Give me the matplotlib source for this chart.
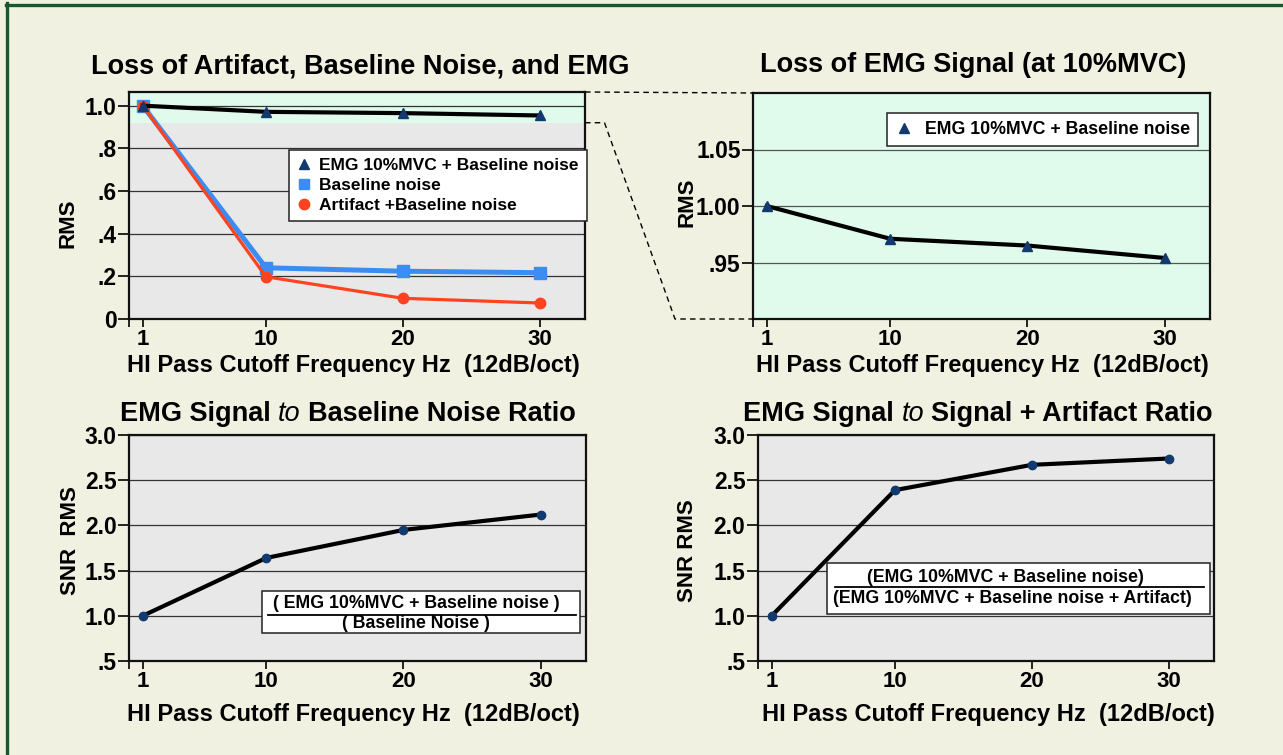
import matplotlib
matplotlib.use("Agg")
import matplotlib.pyplot as plt
from matplotlib.lines import Line2D
from matplotlib.patches import Rectangle

plt.rcParams["font.family"] = ["Liberation Sans", "DejaVu Sans"]
plt.rcParams["font.weight"] = "bold"

# ------------------------------------------------------------------
# data
# ------------------------------------------------------------------
freq = [1, 10, 20, 30]
freq_ticks = [0, 1, 10, 20, 30]
freq_labels = ["", "1", "10", "20", "30"]

rms_emg = [1.000, 0.971, 0.965, 0.954]
rms_baseline = [1.000, 0.240, 0.224, 0.217]
rms_artifact = [1.000, 0.198, 0.097, 0.075]
snr_baseline = [1.00, 1.64, 1.95, 2.12]
snr_artifact = [1.00, 2.39, 2.67, 2.74]

zoom_lo = 0.92  # lower edge of the zoomed band in the first panel

rms_ticks = [0, 0.2, 0.4, 0.6, 0.8, 1.0]
rms_ticklabels = ["0", ".2", ".4", ".6", ".8", "1.0"]
zoom_ticks = [0.95, 1.00, 1.05]
zoom_ticklabels = [".95", "1.00", "1.05"]
snr_ticks = [0.5, 1.0, 1.5, 2.0, 2.5, 3.0]
snr_ticklabels = [".5", "1.0", "1.5", "2.0", "2.5", "3.0"]

lbl_emg = "EMG 10%MVC + Baseline noise"
lbl_base = "Baseline noise"
lbl_art = "Artifact +Baseline noise"
xlabel = "HI Pass Cutoff Frequency Hz  (12dB/oct)"

BG = "#F1F1E1"
GREEN = "#E0FBEC"
GRAY = "#E8E8E8"
BORDER = "#17592F"
NAVY = "#123A6E"
BLUE = "#3B8DF2"
RED = "#FF4320"

W, H = 1283, 755
fig = plt.figure(figsize=(W / 100, H / 100), dpi=100, facecolor=BG)


def px_axes(l, t, r, b):
    return fig.add_axes([l / W, 1 - b / H, (r - l) / W, (b - t) / H])


def style(ax, face, yticks, yticklabels, ylim):
    ax.set_facecolor(face)
    for s in ax.spines.values():
        s.set_linewidth(1.6)
        s.set_color("#111111")
    ax.set_xlim(0, 33.3)
    ax.set_ylim(*ylim)
    ax.set_xticks(freq_ticks)
    ax.set_xticklabels(freq_labels)
    ax.set_yticks(yticks)
    ax.set_yticklabels(yticklabels)
    ax.tick_params(axis="y", length=8, width=1.2, pad=1, labelsize=16.5)
    ax.tick_params(axis="x", length=6, width=1.2, pad=1.5, labelsize=16)
    ax.yaxis.grid(True, color="#333333", linewidth=0.9)
    ax.set_axisbelow(True)


def axtext(ax, x, y, s, **kw):
    ax.text(x, y, s, transform=ax.transAxes, ha="center", va="center",
            fontweight="bold", **kw)


def legend(ax, handles, labels, anchor, **kw):
    leg = ax.legend(handles, labels, loc="upper left", bbox_to_anchor=anchor,
                    borderaxespad=0, fancybox=False, framealpha=1,
                    edgecolor="#222222", **kw)
    leg.get_frame().set_linewidth(1.1)
    return leg


# ------------------------------------------------------------------
# panel 1: loss of artifact, baseline noise and EMG
# ------------------------------------------------------------------
ax1 = px_axes(129, 92, 585, 319)
style(ax1, GRAY, rms_ticks, rms_ticklabels, (0, 1.064))
ax1.axhspan(zoom_lo, 1.2, color=GREEN, zorder=0.1, lw=0)
ax1.plot(freq, rms_baseline, color=BLUE, lw=3.6, marker="s", ms=8,
         mfc=BLUE, mec=BLUE, zorder=3)
ax1.plot(freq, rms_artifact, color=RED, lw=2.3, marker="o", ms=7.5,
         mfc=RED, mec=RED, zorder=4)
ax1.plot(freq, rms_emg, color="black", lw=3.0, zorder=5)
ax1.plot(freq, rms_emg, ls="none", marker="^", ms=6.5, mfc=NAVY, mec=NAVY, zorder=6)
h1 = [Line2D([], [], ls="none", marker="^", ms=7, mfc=NAVY, mec=NAVY),
      Line2D([], [], ls="none", marker="s", ms=7.5, mfc=BLUE, mec=BLUE),
      Line2D([], [], ls="none", marker="o", ms=7.5, mfc=RED, mec=RED)]
legend(ax1, h1, [lbl_emg, lbl_base, lbl_art], (0.351, 0.744),
       prop=dict(size=12.5, weight="bold"), handlelength=0.8,
       handletextpad=0.5, labelspacing=0.28, borderpad=0.45)
axtext(ax1, -0.134, 0.423, "RMS", fontsize=16, rotation=90)
axtext(ax1, 0.491, -0.205, xlabel, fontsize=17)

# ------------------------------------------------------------------
# panel 2: zoom on the EMG signal
# ------------------------------------------------------------------
ax2 = px_axes(753, 93, 1210, 319)
style(ax2, GREEN, zoom_ticks, zoom_ticklabels, (0.90, 1.10))
ax2.yaxis.grid(True, color="#555555", linewidth=0.9)
ax2.plot(freq, rms_emg, color="black", lw=3.0, zorder=5)
ax2.plot(freq, rms_emg, ls="none", marker="^", ms=6.5, mfc=NAVY, mec=NAVY, zorder=6)
legend(ax2, h1[:1], [lbl_emg], (0.293, 0.912),
       prop=dict(size=12.8, weight="bold"), handlelength=1.0,
       handletextpad=0.7, borderpad=0.45)
axtext(ax2, -0.144, 0.518, "RMS", fontsize=16, rotation=90)
axtext(ax2, 0.503, -0.205, xlabel, fontsize=17)

# ------------------------------------------------------------------
# panel 3: EMG to baseline noise ratio
# ------------------------------------------------------------------
ax3 = px_axes(129, 435, 586, 661)
style(ax3, GRAY, snr_ticks, snr_ticklabels, (0.5, 3.0))
ax3.plot(freq, snr_baseline, color="black", lw=3.0, marker="o", ms=6,
         mfc=NAVY, mec=NAVY, zorder=5)
ax3.add_patch(Rectangle((0.291, 0.123), 0.696, 0.186, transform=ax3.transAxes,
                        facecolor="white", edgecolor="#222222", lw=1.1, zorder=6))
ax3.add_line(Line2D([0.304, 0.978], [0.2025, 0.2025], transform=ax3.transAxes,
                    color="black", lw=1.3, zorder=7))
axtext(ax3, 0.628, 0.256, "( EMG 10%MVC + Baseline noise )", fontsize=12.8, zorder=7)
axtext(ax3, 0.628, 0.167, "( Baseline Noise )", fontsize=12.8, zorder=7)
axtext(ax3, -0.129, 0.535, "SNR  RMS", fontsize=16, rotation=90)
axtext(ax3, 0.49, -0.235, xlabel, fontsize=17)

# ------------------------------------------------------------------
# panel 4: EMG to signal + artifact ratio
# ------------------------------------------------------------------
ax4 = px_axes(758, 435, 1214, 661)
style(ax4, GRAY, snr_ticks, snr_ticklabels, (0.5, 3.0))
ax4.plot(freq, snr_artifact, color="black", lw=3.0, marker="o", ms=6,
         mfc=NAVY, mec=NAVY, zorder=5)
ax4.add_patch(Rectangle((0.152, 0.207), 0.840, 0.226, transform=ax4.transAxes,
                        facecolor="white", edgecolor="#222222", lw=1.1, zorder=6))
ax4.add_line(Line2D([0.169, 0.978], [0.3265, 0.3265], transform=ax4.transAxes,
                    color="black", lw=1.3, zorder=7))
axtext(ax4, 0.543, 0.371, "(EMG 10%MVC + Baseline noise)", fontsize=12.8, zorder=7)
axtext(ax4, 0.557, 0.278, "(EMG 10%MVC + Baseline noise + Artifact)", fontsize=12.8, zorder=7)
axtext(ax4, -0.155, 0.49, "SNR RMS", fontsize=16, rotation=90)
axtext(ax4, 0.506, -0.235, xlabel, fontsize=17)

# ------------------------------------------------------------------
# titles (pieces so that "to" can be italic)
# ------------------------------------------------------------------
renderer = fig.canvas.get_renderer()
TITLE_SIZE = 19.5
space_px = 0.278 * TITLE_SIZE * 100 / 72


def title(xc, y_base, parts):
    texts = []
    for s, italic in parts:
        texts.append(fig.text(0, 1 - y_base / H, s, fontsize=TITLE_SIZE,
                              fontweight="normal" if italic else "bold",
                              fontstyle="italic" if italic else "normal",
                              va="baseline", ha="left"))
    widths = [t.get_window_extent(renderer).width for t in texts]
    total = sum(widths) + space_px * (len(texts) - 1)
    x = xc - total / 2
    for t, w in zip(texts, widths):
        t.set_x(x / W)
        x += w + space_px


title(360, 73, [("Loss of Artifact, Baseline Noise, and EMG", False)])
title(973, 72, [("Loss of EMG Signal (at 10%MVC)", False)])
title(348, 421, [("EMG Signal", False), ("to", True), ("Baseline Noise Ratio", False)])
title(978, 421, [("EMG Signal", False), ("to", True), ("Signal + Artifact Ratio", False)])

# ------------------------------------------------------------------
# dashed zoom connectors between panel 1 and panel 2
# ------------------------------------------------------------------
to_fig = fig.transFigure.inverted()
p_top1 = ax1.transAxes.transform((1, 1))
p_top2 = ax2.transAxes.transform((0, 1))
p_lo1 = (ax1.transAxes.transform((1, 0))[0], ax1.transData.transform((0, zoom_lo))[1])
p_bot2 = ax2.transAxes.transform((0, 0))
pts_top = to_fig.transform([p_top1, p_top2])
pts_low = to_fig.transform([p_lo1, (604.5, p_lo1[1]), (675, p_bot2[1]), p_bot2])
for pts in (pts_top, pts_low):
    fig.add_artist(Line2D(pts[:, 0], pts[:, 1], transform=fig.transFigure,
                          color="black", lw=1.0, ls=(0, (4, 3))))

# frame border (top and left edges)
fig.add_artist(Line2D([6.5 / W, 6.5 / W], [0, 1 - 3 / H], transform=fig.transFigure,
                      color=BORDER, lw=2.4))
fig.add_artist(Line2D([5.5 / W, 1], [1 - 4.5 / H, 1 - 4.5 / H], transform=fig.transFigure,
                      color=BORDER, lw=2.4))

fig.savefig("out.png", dpi=100, facecolor=BG)
